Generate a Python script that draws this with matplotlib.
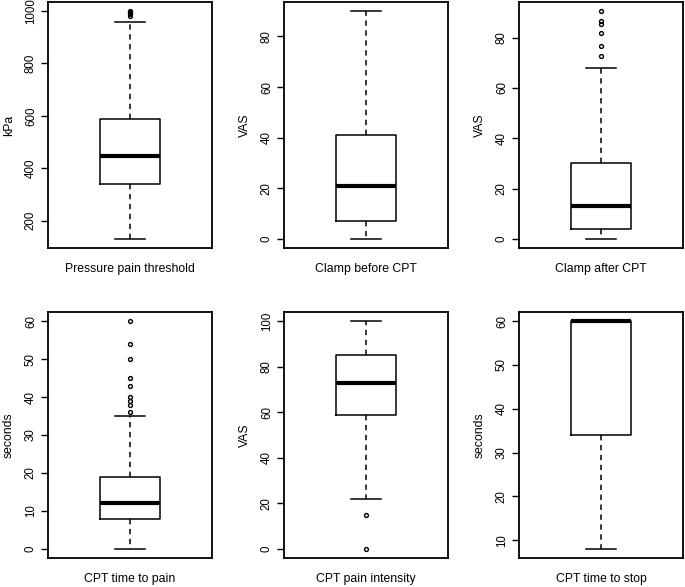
import numpy as np
import matplotlib
matplotlib.use("Agg")
import matplotlib.pyplot as plt

plt.rcParams['font.family'] = ['Liberation Sans', 'DejaVu Sans']

# one entry per panel: box statistics
titles = ["Pressure pain threshold", "Clamp before CPT", "Clamp after CPT",
          "CPT time to pain", "CPT pain intensity", "CPT time to stop"]
units = ["kPa", "VAS", "VAS", "seconds", "VAS", "seconds"]
whislo = [130, 0, 0, 0, 22, 8]
q1 = [340, 7, 4, 8, 59, 34]
med = [445, 21, 13, 12, 73, 60]
q3 = [588, 41, 30, 19, 85, 60]
whishi = [960, 90, 68, 35, 100, 60]
fliers = [
    [983, 988, 993, 997, 1000],
    [],
    [72.5, 76.5, 82, 85.5, 86.5, 90.5],
    [36, 38, 39, 40, 43, 45, 50, 54, 60],
    [15, 0],
    [],
]
yticks = [
    [200, 400, 600, 800, 1000],
    [0, 20, 40, 60, 80],
    [0, 20, 40, 60, 80],
    [0, 10, 20, 30, 40, 50, 60],
    [0, 20, 40, 60, 80, 100],
    [10, 20, 30, 40, 50, 60],
]

fig = plt.figure(figsize=(6.85, 5.87), dpi=100)

lefts = [48 / 685, 284 / 685, 519 / 685]
bottoms = [(587 - 248) / 587, (587 - 558) / 587]
w, h = 164 / 685, 246 / 587

for i in range(6):
    ax = fig.add_axes([lefts[i % 3], bottoms[i // 3], w, h])
    stats = [dict(whislo=whislo[i], q1=q1[i], med=med[i], q3=q3[i],
                  whishi=whishi[i], fliers=fliers[i])]
    ax.bxp(stats, positions=[1], widths=0.4, capwidths=0.2,
           boxprops=dict(color='black', linewidth=1.1),
           medianprops=dict(color='black', linewidth=3.0, solid_capstyle='butt'),
           whiskerprops=dict(color='black', linewidth=1.1, linestyle=(0, (3.5, 3))),
           capprops=dict(color='black', linewidth=1.1),
           flierprops=dict(marker='o', markersize=2.8, markerfacecolor='none',
                           markeredgecolor='black', markeredgewidth=1.0))

    # R-style range: data extent plus 4% on each side
    vals = [whislo[i], whishi[i]] + fliers[i]
    lo, hi = min(vals), max(vals)
    pad = 0.04 * (hi - lo)
    ax.set_ylim(lo - pad, hi + pad)
    ax.set_xlim(0.46, 1.54)

    ax.set_xticks([])
    ax.set_yticks(yticks[i])
    ax.set_yticklabels([str(t) for t in yticks[i]], rotation=90, va='center')
    ax.tick_params(axis='y', length=5, width=1.0, labelsize=8.3, pad=3)
    for s in ax.spines.values():
        s.set_linewidth(1.3)

    ax.set_ylabel(units[i], fontsize=8.8)
    ax.yaxis.set_label_coords(-33 / 164, 0.5)
    ax.set_xlabel(titles[i], fontsize=8.8)
    ax.xaxis.set_label_coords(0.5, -15 / 246)

fig.savefig("out.png", dpi=100)
